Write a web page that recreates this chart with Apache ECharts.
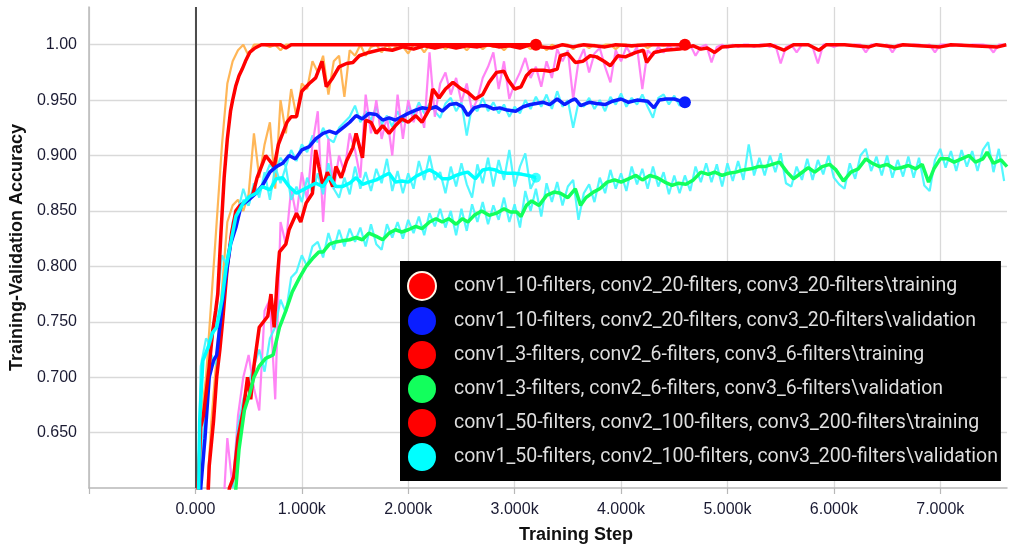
<!DOCTYPE html>
<html>
<head>
<meta charset="utf-8">
<script src="https://cdn.jsdelivr.net/npm/echarts@6/dist/echarts.min.js"></script>
<style>
  html, body { margin: 0; padding: 0; background: #ffffff; }
  #chart { width: 1011px; height: 549px; }
</style>
</head>
<body>
<div id="chart"></div>
<script>
// Run names shown in the legend
const runNames = [
  'conv1_10-filters, conv2_20-filters, conv3_20-filters\\training',
  'conv1_10-filters, conv2_20-filters, conv3_20-filters\\validation',
  'conv1_3-filters, conv2_6-filters, conv3_6-filters\\training',
  'conv1_3-filters, conv2_6-filters, conv3_6-filters\\validation',
  'conv1_50-filters, conv2_100-filters, conv3_200-filters\\training',
  'conv1_50-filters, conv2_100-filters, conv3_200-filters\\validation'
];

// Axis ticks
const xTickValues = [-1000, 0, 1000, 2000, 3000, 4000, 5000, 6000, 7000];
const yTickValues = [0.60, 0.65, 0.70, 0.75, 0.80, 0.85, 0.90, 0.95, 1.00];

// Raw (unsmoothed) scalars are logged every RAW_STEP training steps
const RAW_STEP = 50;

// ---- conv1_10 / conv2_20 / conv3_20 ----
const train10Smooth = [[0,0.3],[100,0.55],[130,0.62],[170,0.66],[200,0.70],[230,0.725],[260,0.755],[300,0.80],[340,0.83],[380,0.85],[420,0.855],[470,0.858],[540,0.865],[580,0.88],[620,0.89],[660,0.90],[700,0.895],[740,0.89],[780,0.91],[820,0.92],[860,0.93],[900,0.935],[950,0.935],[1000,0.958],[1070,0.965],[1130,0.97],[1190,0.985],[1230,0.962],[1290,0.97],[1350,0.98],[1420,0.983],[1480,0.984],[1540,0.99],[1630,0.993],[1760,0.996],[1850,0.995],[1950,0.998],[2050,0.996],[2150,0.999],[2250,0.997],[2350,0.999],[2450,0.997],[2550,0.999],[2650,0.998],[2750,1.0],[2850,0.998],[2950,0.999],[3050,0.997],[3150,1.0],[3250,0.998],[3350,0.997],[3450,1.0],[3550,0.998],[3650,1.0],[3750,0.999],[3850,0.998],[3950,1.0],[4100,0.999],[4250,1.0],[4400,1.0],[4600,1.0]];
const train10RawStart = 100;
const train10Raw = [0.58,0.66,0.72,0.78,0.84,0.855,0.86,0.85,0.865,0.92,0.88,0.91,0.93,0.87,0.95,0.92,0.96,0.935,0.965,0.96,0.985,0.975,0.99,0.955,0.985,0.99,0.953,0.995,0.99,1.0,0.99,0.998,1.0,0.993,1.0,0.995,1.0,0.998,0.992,1.0,1.0,0.993,1.0,0.997,1.0,0.996,1.0,0.998,1.0,0.995,1.0,1.0,0.996,1.0,0.998,1.0,0.995,1.0,1.0,0.997,1.0,0.996,1.0,1.0,0.995,1.0,0.998,1.0,1.0,0.996,1.0,1.0,0.997,1.0,0.998,1.0,1.0,0.996,1.0,1.0,0.998,1.0,1.0,0.997,1.0,1.0,0.999,1.0,1.0,1.0,1.0];

const val10Smooth = [[0,0.40],[50,0.60],[90,0.645],[130,0.70],[170,0.715],[200,0.72],[240,0.755],[270,0.78],[300,0.80],[330,0.82],[380,0.835],[430,0.855],[500,0.86],[570,0.866],[630,0.873],[700,0.885],[760,0.89],[820,0.893],[880,0.90],[940,0.897],[1000,0.905],[1070,0.908],[1130,0.915],[1200,0.92],[1260,0.922],[1320,0.92],[1400,0.926],[1450,0.93],[1510,0.936],[1570,0.933],[1630,0.938],[1700,0.937],[1760,0.932],[1820,0.934],[1880,0.932],[1940,0.935],[2000,0.938],[2070,0.941],[2130,0.943],[2200,0.942],[2260,0.944],[2320,0.940],[2390,0.946],[2450,0.947],[2510,0.944],[2560,0.936],[2620,0.943],[2690,0.945],[2730,0.945],[2800,0.942],[2860,0.943],[2930,0.941],[3010,0.940],[3080,0.944],[3150,0.946],[3270,0.948],[3330,0.946],[3400,0.951],[3470,0.946],[3540,0.950],[3570,0.951],[3620,0.945],[3700,0.948],[3770,0.947],[3850,0.946],[3920,0.949],[4000,0.951],[4070,0.948],[4150,0.950],[4250,0.949],[4310,0.943],[4360,0.950],[4420,0.951],[4500,0.951],[4600,0.948]];
const val10RawStart = 0;
const val10Raw = [0.45,0.62,0.68,0.72,0.71,0.77,0.81,0.83,0.845,0.86,0.855,0.872,0.865,0.88,0.892,0.885,0.898,0.89,0.905,0.895,0.91,0.903,0.918,0.912,0.925,0.915,0.912,0.925,0.93,0.935,0.945,0.93,0.94,0.932,0.944,0.928,0.936,0.926,0.94,0.93,0.945,0.936,0.948,0.938,0.947,0.94,0.934,0.947,0.952,0.94,0.948,0.918,0.945,0.94,0.952,0.94,0.948,0.938,0.946,0.935,0.944,0.938,0.95,0.942,0.953,0.944,0.955,0.942,0.958,0.944,0.95,0.925,0.948,0.944,0.952,0.942,0.95,0.94,0.953,0.946,0.956,0.944,0.952,0.946,0.955,0.944,0.934,0.952,0.955,0.946,0.954,0.945,0.948];

// ---- conv1_3 / conv2_6 / conv3_6 ----
const train3Smooth = [[0,0.2],[250,0.55],[320,0.60],[360,0.61],[400,0.645],[450,0.67],[490,0.70],[520,0.68],[550,0.71],[600,0.745],[640,0.75],[680,0.755],[710,0.775],[740,0.745],[770,0.79],[790,0.813],[850,0.82],[880,0.833],[950,0.848],[990,0.84],[1040,0.857],[1100,0.866],[1130,0.905],[1160,0.89],[1200,0.872],[1240,0.885],[1290,0.872],[1320,0.89],[1370,0.88],[1420,0.895],[1480,0.907],[1510,0.92],[1570,0.898],[1600,0.932],[1650,0.93],[1700,0.92],[1760,0.927],[1820,0.92],[1880,0.927],[1940,0.933],[2000,0.93],[2070,0.936],[2130,0.93],[2200,0.942],[2230,0.96],[2290,0.952],[2350,0.96],[2420,0.966],[2500,0.96],[2560,0.957],[2630,0.951],[2700,0.955],[2760,0.966],[2830,0.975],[2900,0.976],[2940,0.968],[3000,0.960],[3060,0.962],[3110,0.972],[3160,0.977],[3270,0.977],[3330,0.976],[3400,0.978],[3430,0.99],[3500,0.992],[3570,0.984],[3640,0.985],[3710,0.99],[3770,0.989],[3840,0.985],[3900,0.981],[3970,0.99],[4040,0.989],[4140,0.993],[4210,0.995],[4240,0.984],[4310,0.993],[4410,0.995],[4550,0.996],[4680,0.999],[4750,0.996],[4810,0.997],[4880,0.993],[4950,0.998],[5080,0.999],[5300,0.999],[5400,1.0],[5530,0.995],[5620,1.0],[5760,1.0],[5860,0.995],[5930,1.0],[6100,1.0],[6330,0.998],[6400,1.0],[6570,0.998],[6650,1.0],[7000,0.998],[7100,1.0],[7540,0.998],[7620,1.0]];
const train3RawStart = 250;
const train3Raw = [0.56,0.645,0.60,0.665,0.70,0.72,0.69,0.67,0.76,0.77,0.68,0.84,0.82,0.87,0.845,0.885,0.86,0.91,0.94,0.84,0.915,0.87,0.90,0.885,0.92,0.905,0.88,0.955,0.92,0.95,0.915,0.935,0.90,0.955,0.915,0.95,0.93,0.945,0.925,0.993,0.935,0.965,0.975,0.955,0.97,0.948,0.965,0.94,0.951,0.97,0.98,0.993,0.96,0.985,0.951,0.965,0.975,0.988,0.97,0.98,0.962,0.985,0.97,0.996,0.985,0.995,0.951,0.985,0.996,0.975,0.992,0.997,0.98,0.966,0.995,0.985,0.998,0.99,0.998,0.96,0.995,0.99,0.998,0.993,0.999,0.995,1.0,0.998,1.0,0.99,0.998,1.0,0.984,0.998,1.0,0.997,1.0,0.998,1.0,1.0,0.998,1.0,1.0,0.998,1.0,0.983,0.998,1.0,0.993,1.0,1.0,0.998,0.983,1.0,1.0,0.998,1.0,1.0,0.999,1.0,1.0,0.993,1.0,1.0,0.999,1.0,0.993,1.0,1.0,0.999,1.0,1.0,0.999,1.0,0.993,1.0,1.0,0.999,1.0,1.0,0.999,1.0,1.0,1.0,0.999,0.993,1.0,1.0];

const val3Smooth = [[0,0.2],[330,0.50],[380,0.60],[410,0.635],[460,0.67],[510,0.685],[550,0.70],[600,0.71],[660,0.717],[730,0.72],[790,0.745],[850,0.76],[910,0.777],[980,0.79],[1040,0.80],[1100,0.807],[1160,0.813],[1200,0.813],[1260,0.82],[1320,0.822],[1380,0.823],[1450,0.824],[1510,0.826],[1570,0.824],[1630,0.83],[1700,0.827],[1760,0.824],[1820,0.83],[1880,0.833],[1940,0.831],[2000,0.833],[2070,0.836],[2130,0.834],[2200,0.84],[2260,0.843],[2320,0.84],[2380,0.843],[2450,0.838],[2510,0.843],[2560,0.84],[2620,0.846],[2690,0.85],[2760,0.846],[2830,0.848],[2900,0.852],[2960,0.849],[3020,0.849],[3060,0.845],[3110,0.855],[3160,0.859],[3230,0.855],[3300,0.864],[3370,0.867],[3430,0.866],[3500,0.862],[3570,0.87],[3620,0.855],[3670,0.862],[3740,0.867],[3800,0.87],[3870,0.876],[3940,0.878],[4000,0.876],[4070,0.879],[4140,0.882],[4200,0.878],[4270,0.882],[4340,0.88],[4410,0.876],[4480,0.873],[4540,0.875],[4610,0.874],[4680,0.878],[4750,0.885],[4820,0.883],[4880,0.885],[4950,0.882],[5010,0.884],[5080,0.885],[5150,0.887],[5220,0.888],[5290,0.89],[5350,0.89],[5420,0.892],[5490,0.894],[5560,0.885],[5620,0.879],[5690,0.884],[5760,0.889],[5820,0.885],[5890,0.89],[5960,0.892],[6020,0.887],[6090,0.877],[6160,0.885],[6230,0.888],[6300,0.897],[6360,0.893],[6430,0.89],[6500,0.892],[6570,0.888],[6630,0.889],[6700,0.891],[6770,0.888],[6830,0.892],[6890,0.876],[6940,0.888],[7000,0.897],[7070,0.897],[7130,0.894],[7200,0.897],[7270,0.9],[7330,0.894],[7400,0.897],[7440,0.903],[7500,0.893],[7570,0.896],[7627,0.89]];
const val3RawStart = 350;
const val3Raw = [0.60,0.655,0.68,0.695,0.71,0.725,0.705,0.735,0.745,0.77,0.758,0.79,0.795,0.81,0.80,0.818,0.822,0.808,0.83,0.815,0.833,0.818,0.834,0.822,0.835,0.818,0.838,0.82,0.815,0.838,0.826,0.84,0.825,0.842,0.83,0.845,0.828,0.848,0.836,0.852,0.835,0.85,0.828,0.852,0.832,0.856,0.84,0.858,0.838,0.855,0.842,0.862,0.84,0.856,0.835,0.868,0.85,0.87,0.845,0.875,0.858,0.876,0.855,0.872,0.878,0.842,0.866,0.874,0.858,0.88,0.866,0.887,0.87,0.884,0.868,0.89,0.874,0.888,0.87,0.89,0.872,0.885,0.865,0.882,0.866,0.882,0.868,0.89,0.876,0.893,0.876,0.892,0.872,0.893,0.877,0.895,0.878,0.91,0.882,0.898,0.882,0.9,0.885,0.902,0.875,0.872,0.89,0.878,0.897,0.878,0.896,0.883,0.9,0.88,0.874,0.87,0.893,0.879,0.9,0.906,0.886,0.899,0.882,0.9,0.88,0.896,0.881,0.899,0.88,0.898,0.873,0.868,0.896,0.906,0.889,0.904,0.886,0.905,0.89,0.904,0.886,0.905,0.912,0.885,0.906,0.877];

// ---- conv1_50 / conv2_100 / conv3_200 ----
const train50Smooth = [[0,0.45],[25,0.60],[50,0.655],[75,0.665],[100,0.685],[130,0.71],[160,0.74],[190,0.76],[210,0.775],[240,0.83],[270,0.88],[300,0.915],[330,0.94],[350,0.95],[380,0.963],[410,0.972],[440,0.978],[470,0.985],[510,0.993],[560,0.997],[620,1.0],[800,1.0],[850,0.997],[900,1.0],[1500,1.0],[2000,1.0],[2500,1.0],[3200,1.0]];
const train50RawStart = 0;
const train50Raw = [0.5,0.66,0.70,0.77,0.84,0.91,0.965,0.985,0.995,1.0,0.99,1.0,1.0,1.0,0.998,1.0,0.995,1.0,1.0,1.0,1.0,1.0,1.0,1.0,1.0,1.0,1.0,1.0,1.0,1.0,1.0,1.0,1.0,1.0,1.0,1.0,1.0,1.0,1.0,1.0,1.0,1.0,1.0,1.0,1.0,1.0,1.0,1.0,1.0,1.0,1.0,1.0,1.0,1.0,1.0,1.0,1.0,1.0,1.0,1.0,1.0,1.0,1.0,1.0,1.0];

const val50Smooth = [[0,0.4],[40,0.66],[70,0.715],[120,0.727],[160,0.74],[200,0.745],[250,0.77],[290,0.80],[340,0.825],[380,0.845],[450,0.857],[510,0.863],[570,0.866],[630,0.872],[700,0.869],[760,0.879],[820,0.88],[880,0.872],[950,0.866],[1010,0.869],[1070,0.872],[1130,0.875],[1200,0.872],[1260,0.881],[1320,0.872],[1380,0.872],[1450,0.875],[1510,0.88],[1570,0.874],[1630,0.876],[1700,0.878],[1760,0.881],[1820,0.884],[1880,0.876],[1940,0.877],[2000,0.876],[2070,0.881],[2130,0.884],[2200,0.887],[2260,0.884],[2320,0.879],[2380,0.879],[2450,0.882],[2510,0.884],[2560,0.885],[2630,0.879],[2700,0.887],[2760,0.888],[2820,0.887],[2860,0.885],[2930,0.884],[3000,0.884],[3070,0.883],[3130,0.882],[3200,0.88]];
const val50RawStart = 0;
const val50Raw = [0.50,0.71,0.735,0.728,0.76,0.81,0.80,0.84,0.85,0.87,0.855,0.875,0.862,0.885,0.86,0.89,0.875,0.89,0.86,0.872,0.858,0.88,0.866,0.884,0.865,0.893,0.87,0.862,0.88,0.865,0.89,0.87,0.885,0.868,0.888,0.875,0.897,0.868,0.886,0.866,0.884,0.87,0.895,0.878,0.9,0.878,0.885,0.866,0.89,0.872,0.893,0.874,0.862,0.892,0.875,0.898,0.872,0.896,0.878,0.905,0.872,0.89,0.902,0.87,0.88];

// Colours per run: smoothed line, raw line
const smoothColors = ['#ff0000', '#0a1eff', '#ff0000', '#12ff5c', '#ff0000', '#00ffff'];
const rawColors    = ['#ffae45', '#3ff6ff', '#ff77f4', '#3ff6ff', '#ffae45', '#3ff6ff'];

function rawPoints(start, values) {
  return values.map(function (v, i) { return [start + i * RAW_STEP, v]; });
}

const runs = [
  { smooth: train10Smooth, raw: rawPoints(train10RawStart, train10Raw), endDot: true },
  { smooth: val10Smooth,   raw: rawPoints(val10RawStart, val10Raw),     endDot: true },
  { smooth: train3Smooth,  raw: rawPoints(train3RawStart, train3Raw),   endDot: false },
  { smooth: val3Smooth,    raw: rawPoints(val3RawStart, val3Raw),       endDot: false },
  { smooth: train50Smooth, raw: rawPoints(train50RawStart, train50Raw), endDot: true },
  { smooth: val50Smooth,   raw: rawPoints(val50RawStart, val50Raw),     endDot: true }
];

const series = [];
// Smoothed curves first so the legend takes their colours
runs.forEach(function (run, i) {
  const s = {
    name: runNames[i],
    type: 'line',
    data: run.smooth,
    showSymbol: false,
    symbol: 'none',
    z: 4,
    itemStyle: { color: smoothColors[i] },
    lineStyle: { color: smoothColors[i], width: 3.5 },
    emphasis: { disabled: true }
  };
  if (i === 0) {
    s.markLine = {
      silent: true,
      symbol: ['none', 'none'],
      label: { show: false },
      z: 1,
      lineStyle: { color: '#4d4d4d', width: 2, type: 'solid' },
      data: [{ xAxis: 0 }]
    };
  }
  series.push(s);
});
// Raw curves underneath
runs.forEach(function (run, i) {
  series.push({
    name: runNames[i],
    type: 'line',
    data: run.raw,
    showSymbol: false,
    symbol: 'none',
    z: 2,
    itemStyle: { color: rawColors[i] },
    lineStyle: { color: rawColors[i], width: 2.2, opacity: 0.9 },
    emphasis: { disabled: true }
  });
});
// Dots on the last logged step of runs that stopped early
runs.forEach(function (run, i) {
  if (!run.endDot) return;
  const last = run.smooth[run.smooth.length - 1];
  series.push({
    name: 'last-' + i,
    type: 'scatter',
    data: [last],
    symbol: 'circle',
    symbolSize: i === 5 ? 10 : 12,
    z: 5,
    itemStyle: { color: smoothColors[i], opacity: i === 5 ? 0.75 : 1 },
    emphasis: { disabled: true }
  });
});

const chart = echarts.init(document.getElementById('chart'), null, { renderer: 'canvas' });

chart.setOption({
  animation: false,
  backgroundColor: '#ffffff',
  grid: { left: 89, right: 4, top: 7, bottom: 61, containLabel: false },
  xAxis: {
    type: 'value',
    min: xTickValues[0],
    max: 7627,
    interval: 1000,
    axisLine: { show: true, onZero: false, lineStyle: { color: '#b8b8b8', width: 1.5 } },
    axisTick: { show: true, length: 6, lineStyle: { color: '#b8b8b8', width: 1.2 } },
    axisLabel: {
      margin: 14,
      fontSize: 16,
      fontFamily: 'Liberation Sans',
      color: '#1b1b33',
      showMaxLabel: false,
      formatter: function (v) {
        if (xTickValues.indexOf(v) < 0 || v < 0) return '';
        return v === 0 ? '0.000' : (v / 1000).toFixed(3) + 'k';
      }
    },
    splitLine: { show: true, showMaxLine: false, lineStyle: { color: '#d9d9d9', width: 1.3 } }
  },
  yAxis: {
    type: 'value',
    min: yTickValues[0],
    max: 1.034,
    interval: 0.05,
    name: 'Training-Validation Accuracy',
    nameLocation: 'middle',
    nameGap: 58,
    nameTextStyle: { fontSize: 18, fontWeight: 'bold', fontFamily: 'Liberation Sans', color: '#111' },
    axisLine: { show: true, onZero: false, lineStyle: { color: '#b8b8b8', width: 1.5 } },
    axisTick: { show: false },
    axisLabel: {
      margin: 12,
      fontSize: 16,
      fontFamily: 'Liberation Sans',
      color: '#1b1b33',
      formatter: function (v) {
        if (v < 0.62 || v > 1.01) return '';
        return Math.abs(v - 1) < 1e-6 ? '1.00' : v.toFixed(3);
      }
    },
    splitLine: { show: true, showMinLine: false, showMaxLine: false, lineStyle: { color: '#d9d9d9', width: 1.3 } }
  },
  legend: {
    data: runNames.map(function (n, i) {
      return i === 0
        ? { name: n, itemStyle: { borderColor: '#fff6e8', borderWidth: 2 } }
        : { name: n };
    }),
    orient: 'vertical',
    left: 400,
    top: 261,
    backgroundColor: '#000000',
    borderRadius: 0,
    padding: [10, 3, 10, 7],
    icon: 'circle',
    itemWidth: 28,
    itemHeight: 28,
    itemGap: 6,
    selectedMode: false,
    textStyle: { color: '#dedede', fontSize: 19.5, fontFamily: 'Roboto', padding: [0, 0, 0, 13] }
  },
  graphic: [{
    type: 'text',
    x: 576,
    y: 535,
    style: {
      text: 'Training Step',
      fontSize: 18,
      fontWeight: 'bold',
      fontFamily: 'Liberation Sans',
      fill: '#111',
      align: 'center',
      verticalAlign: 'middle'
    }
  }],
  series: series
});
</script>
</body>
</html>
